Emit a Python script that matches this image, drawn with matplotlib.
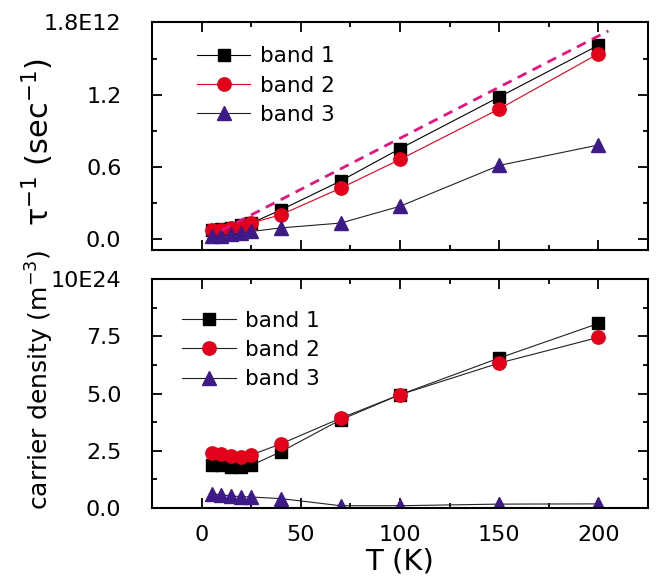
import matplotlib
matplotlib.use("Agg")
import matplotlib.pyplot as plt
from matplotlib.ticker import MultipleLocator, FuncFormatter

plt.rcParams['font.family'] = 'DejaVu Sans'
plt.rcParams['mathtext.default'] = 'regular'

# temperatures (K)
T = [5, 10, 15, 20, 25, 40, 70, 100, 150, 200]

# scattering rates, units of 1E12 sec^-1
rate1 = [0.07, 0.08, 0.09, 0.11, 0.13, 0.24, 0.48, 0.75, 1.18, 1.61]
rate2 = [0.07, 0.075, 0.09, 0.10, 0.13, 0.20, 0.42, 0.66, 1.08, 1.54]
rate3 = [0.02, 0.025, 0.035, 0.045, 0.06, 0.09, 0.13, 0.27, 0.61, 0.78]

# dashed linear guide
fit_T = [10, 205]
fit_rate = [0.07, 1.73]

# carrier densities, units of 1E24 m^-3
dens1 = [1.88, 1.86, 1.81, 1.80, 1.86, 2.46, 3.85, 4.95, 6.55, 8.06]
dens2 = [2.42, 2.36, 2.25, 2.22, 2.32, 2.80, 3.92, 4.95, 6.33, 7.45]
dens3 = [0.62, 0.58, 0.52, 0.50, 0.48, 0.41, 0.10, 0.10, 0.17, 0.18]

labels = ['band 1', 'band 2', 'band 3']

red = '#e2001a'
purple = '#3d1a87'
magenta = '#e6127f'

fig = plt.figure(figsize=(6.65, 5.78), dpi=100)
ax1 = fig.add_axes([0.2286, 0.5675, 0.7459, 0.3936])
ax2 = fig.add_axes([0.2286, 0.1211, 0.7459, 0.3962])

# top panel
ax1.plot(T, rate1, '-', color='black', lw=0.8, marker='s', ms=8.4, mfc='black', mec='black', label=labels[0])
ax1.plot(T, rate2, '-', color=red, lw=0.8, marker='o', ms=9.6, mfc=red, mec=red, label=labels[1])
ax1.plot(T, rate3, '-', color='#222222', lw=0.8, marker='^', ms=10, mfc=purple, mec=purple, label=labels[2])
ax1.plot(fit_T, fit_rate, color=magenta, lw=2, linestyle=(0, (3.5, 2.5)))

# bottom panel
ax2.plot(T, dens1, '-', color='#222222', lw=0.8, marker='s', ms=8.4, mfc='black', mec='black', label=labels[0])
ax2.plot(T, dens2, '-', color='#222222', lw=0.8, marker='o', ms=9.6, mfc=red, mec=red, label=labels[1])
ax2.plot(T, dens3, '-', color='#222222', lw=0.8, marker='^', ms=10, mfc=purple, mec=purple, label=labels[2])


def top_fmt(v, pos):
    if abs(v - 1.8) < 1e-6:
        return '1.8E12'
    return '%.1f' % v


def bot_fmt(v, pos):
    if abs(v - 10) < 1e-6:
        return '10E24'
    return '%.1f' % v


for ax in (ax1, ax2):
    ax.set_xlim(-25, 225)
    ax.xaxis.set_major_locator(MultipleLocator(50))
    ax.xaxis.set_minor_locator(MultipleLocator(25))
    ax.tick_params(which='both', direction='in', top=True, right=True, width=1.3)
    ax.tick_params(which='major', length=7)
    ax.tick_params(which='minor', length=3.5)
    ax.tick_params(axis='y', labelsize=16, pad=22)
    ax.tick_params(axis='x', labelsize=16, pad=12)
    for sp in ax.spines.values():
        sp.set_linewidth(1.5)
    ax.legend(loc='upper left', frameon=False, fontsize=15.5, handlelength=2.5,
              handletextpad=0.45, labelspacing=0.43, borderpad=0, borderaxespad=0,
              numpoints=1)

ax1.set_ylim(-0.094, 1.8)
ax1.yaxis.set_major_locator(MultipleLocator(0.6))
ax1.yaxis.set_minor_locator(MultipleLocator(0.3))
ax1.yaxis.set_major_formatter(FuncFormatter(top_fmt))
ax1.tick_params(axis='x', labelbottom=False)
ax1.set_ylabel(r'$\tau^{-1}$ (sec$^{-1}$)', fontsize=22)
ax1.yaxis.set_label_coords(-0.1935, 0.475)
ax1.get_legend().set_bbox_to_anchor((0.09, 0.895), transform=ax1.transAxes)

ax2.set_ylim(0, 10)
ax2.yaxis.set_major_locator(MultipleLocator(2.5))
ax2.yaxis.set_minor_locator(MultipleLocator(1.25))
ax2.yaxis.set_major_formatter(FuncFormatter(bot_fmt))
ax2.set_ylabel(r'carrier density (m$^{-3}$)', fontsize=18)
ax2.yaxis.set_label_coords(-0.1935, 0.56)
ax2.set_xlabel('T (K)', fontsize=21, labelpad=2)
ax2.get_legend().set_bbox_to_anchor((0.06, 0.862), transform=ax2.transAxes)

fig.savefig('out.png', dpi=100)
